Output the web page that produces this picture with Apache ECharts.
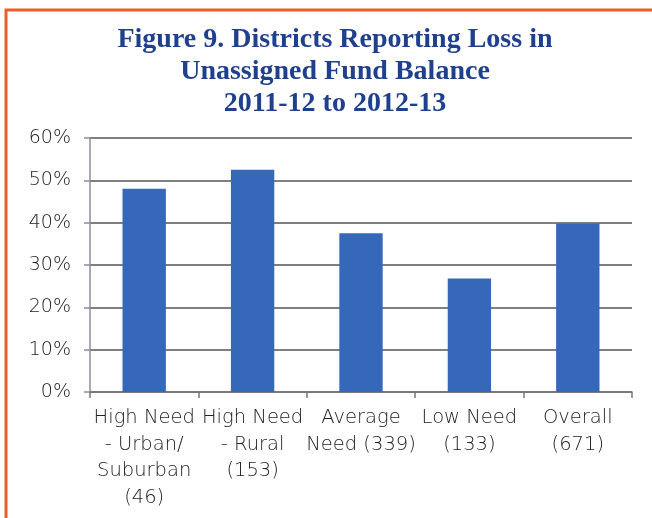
<!DOCTYPE html>
<html>
<head>
<meta charset="utf-8">
<script src="https://cdn.jsdelivr.net/npm/echarts@6/dist/echarts.min.js"></script>
<style>
html,body{margin:0;padding:0;background:#fff;}
#chart{width:652px;height:518px;}
</style>
</head>
<body>
<div id="chart"></div>
<script>
const titleLines = ['Figure 9. Districts Reporting Loss in', 'Unassigned Fund Balance', '2011-12 to 2012-13'];
const categories = ['High Need\n- Urban/\nSuburban\n(46)', 'High Need\n- Rural\n(153)', 'Average\nNeed (339)', 'Low Need\n(133)', 'Overall\n(671)'];
const values = [48, 52.5, 37.5, 26.8, 39.8];
const yTicks = [0, 10, 20, 30, 40, 50, 60];

const chart = echarts.init(document.getElementById('chart'));
chart.setOption({
  backgroundColor: '#fff',
  animation: false,
  graphic: [{
    type: 'rect',
    shape: {x: 6, y: 10, width: 700, height: 600},
    style: {fill: 'none', stroke: '#ea5f2a', lineWidth: 3},
    silent: true
  }],
  title: {
    text: titleLines.join('\n'),
    left: 330,
    textAlign: 'center',
    top: 19,
    textStyle: {
      fontFamily: 'Liberation Serif',
      fontWeight: 'bold',
      fontSize: 28,
      lineHeight: 32,
      color: '#1f3f8f'
    }
  },
  grid: {left: 90, right: 20, top: 138, bottom: 126, containLabel: false},
  xAxis: {
    type: 'category',
    data: categories,
    axisLine: {lineStyle: {color: '#777', width: 1.5}},
    axisTick: {show: true, length: 6, lineStyle: {color: '#777', width: 1.5}},
    axisLabel: {
      interval: 0,
      margin: 13,
      fontFamily: 'DejaVu Sans',
      fontWeight: 200,
      fontSize: 19.5,
      lineHeight: 26.5,
      color: '#222'
    }
  },
  yAxis: {
    type: 'value',
    min: 0,
    max: 60,
    interval: 10,
    axisLine: {show: true, lineStyle: {color: '#8a8fa0', width: 1.5}},
    axisTick: {show: true, length: 6, lineStyle: {color: '#8a8fa0', width: 1.5}},
    axisLabel: {
      formatter: v => yTicks.includes(v) ? v + '%' : '',
      margin: 19,
      fontFamily: 'DejaVu Sans',
      fontWeight: 200,
      fontSize: 19,
      color: '#222'
    },
    splitLine: {show: true, lineStyle: {color: '#555', width: 1.5}}
  },
  series: [{
    type: 'bar',
    data: values,
    barWidth: '40%',
    itemStyle: {color: '#3668b9'}
  }]
});
</script>
</body>
</html>
